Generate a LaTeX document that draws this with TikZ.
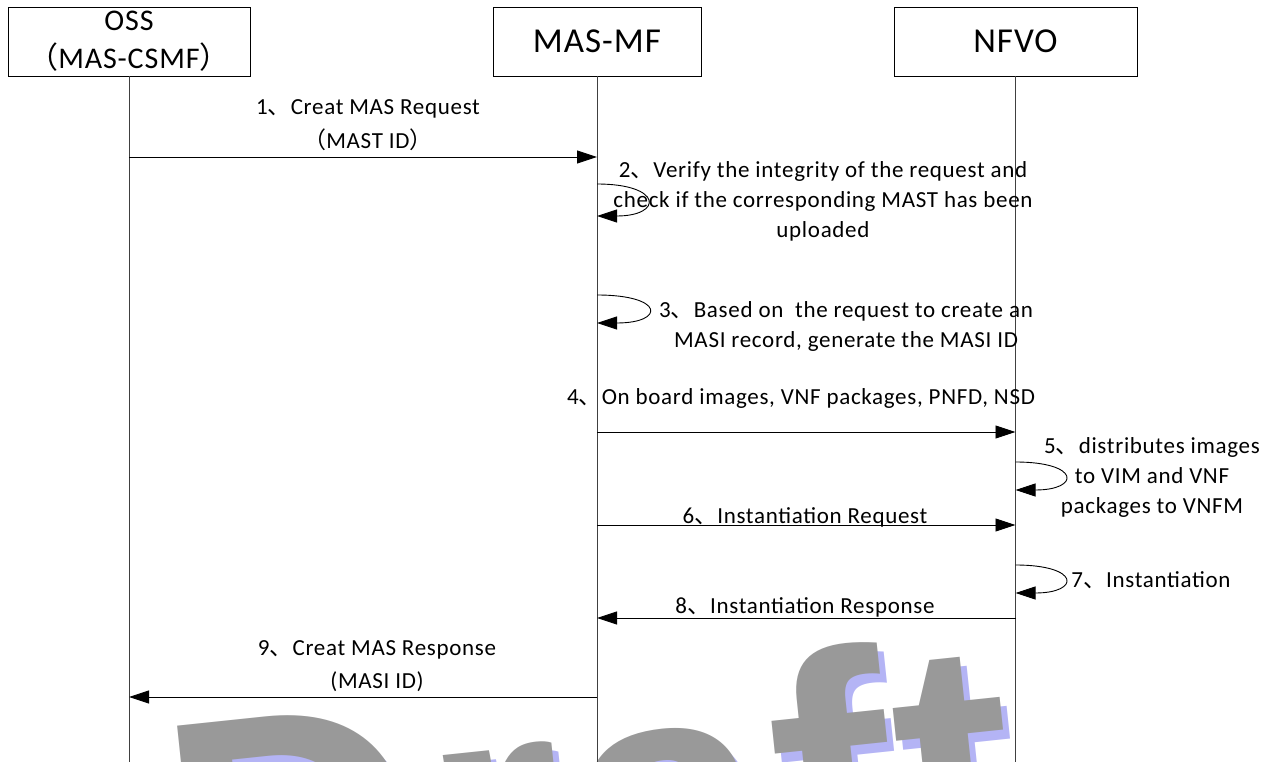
\documentclass[tikz,border=0pt]{standalone}
\usepackage{fontspec}
\setmainfont{Carlito}[LetterSpace=3]
\newfontfamily\cjk{Noto Sans CJK SC}
\newfontfamily\wmfont{Liberation Sans}[LetterSpace=1.7]
\usetikzlibrary{arrows.meta, positioning}

\newcommand{\dun}{{\cjk 、}}
\newcommand{\lpar}{{\cjk （}}
\newcommand{\rpar}{{\cjk ）}}

\definecolor{wmgrey}{RGB}{153,153,153}
\definecolor{wmblue}{RGB}{180,180,245}

\tikzset{
    actor/.style={draw, line width=0.9pt, minimum height=69pt, inner sep=0pt,
                  outer sep=0pt, align=center, font=\fontsize{35}{38}\selectfont},
    lifeline/.style={line width=0.9pt, black!75},
    msg/.style={line width=0.9pt, -{Triangle[length=20pt, width=13pt]}},
    lbl/.style={align=center, inner sep=0pt, font=\fontsize{23}{30}\selectfont},
    watermark/.style={font=\wmfont\bfseries\fontsize{355}{355}\selectfont,
                      rotate=6, anchor=base west, inner sep=0pt},
}

\begin{document}
\begin{tikzpicture}[x=1pt, y=-1pt, node distance=10pt]
    \useasboundingbox (0,0) rectangle (1272,762);

    % Draft watermark
    \begin{scope}
        \clip (0,0) rectangle (1272,762);
        \node[watermark, text=wmblue] (Draft shadow) at (186,981) {Draft};
        \node[watermark, text=wmgrey] (Draft)        at (179,972) {Draft};
    \end{scope}

    \node[actor, minimum width=242pt, anchor=north west, font=\fontsize{30}{38}\selectfont]
                                         (OSS) at (8,7) {OSS\\\lpar MAS-CSMF\rpar};
    \node[actor, minimum width=208pt, right=243pt of OSS] (MF)   {MAS-MF};
    \node[actor, minimum width=243pt, right=193pt of MF]  (NFVO) {NFVO};

    \coordinate (OSS end)  at (OSS  |- 0,762);
    \coordinate (MF end)   at (MF   |- 0,762);
    \coordinate (NFVO end) at (NFVO |- 0,762);
    \draw[lifeline] (OSS)  -- (OSS end);
    \draw[lifeline] (MF)   -- (MF end);
    \draw[lifeline] (NFVO) -- (NFVO end);

    % 1
    \coordinate (m1 from) at (OSS |- 0,157);
    \coordinate (m1 to)   at (MF  |- 0,157);
    \draw[msg] (m1 from) -- (m1 to);
    \node[lbl, font=\fontsize{23}{34}\selectfont] (l1) at (368,125)
        {1\dun Creat MAS Request\\\lpar MAST ID\rpar};

    % 2
    \coordinate (m2 from) at (MF |- 0,184);
    \coordinate (m2 to)   at (MF |- 0,216);
    \draw[msg] (m2 from) .. controls +(66,0) and +(66,0) .. (m2 to);
    \node[lbl] (l2) at (823,201)
        {2\dun Verify the integrity of the request and\\check if the corresponding MAST has been\\uploaded};

    % 3
    \coordinate (m3 from) at (MF |- 0,295);
    \coordinate (m3 to)   at (MF |- 0,323);
    \draw[msg] (m3 from) .. controls +(68,0) and +(68,0) .. (m3 to);
    \node[lbl] (l3) at (846,326)
        {3\dun Based on\ \ the request to create an\\MASI record, generate the MASI ID};

    % 4
    \coordinate (m4 from) at (MF   |- 0,432);
    \coordinate (m4 to)   at (NFVO |- 0,432);
    \draw[msg] (m4 from) -- (m4 to);
    \node[lbl] (l4) at (801,398) {4\dun On board images, VNF packages, PNFD, NSD};

    % 5
    \coordinate (m5 from) at (NFVO |- 0,462);
    \coordinate (m5 to)   at (NFVO |- 0,490);
    \draw[msg] (m5 from) .. controls +(65,0) and +(65,0) .. (m5 to);
    \node[lbl] (l5) at (1152,477)
        {5\dun distributes images\\to VIM and VNF\\packages to VNFM};

    % 6
    \coordinate (m6 from) at (MF   |- 0,525);
    \coordinate (m6 to)   at (NFVO |- 0,525);
    \draw[msg] (m6 from) -- (m6 to);
    \node[lbl] (l6) at (805,517) {6\dun Instantiation Request};

    % 7
    \coordinate (m7 from) at (NFVO |- 0,565);
    \coordinate (m7 to)   at (NFVO |- 0,593);
    \draw[msg] (m7 from) .. controls +(65,0) and +(65,0) .. (m7 to);
    \node[lbl] (l7) at (1151,580) {7\dun Instantiation};

    % 8
    \coordinate (m8 from) at (NFVO |- 0,618);
    \coordinate (m8 to)   at (MF   |- 0,618);
    \draw[msg] (m8 from) -- (m8 to);
    \node[lbl] (l8) at (805,607) {8\dun Instantiation Response};

    % 9
    \coordinate (m9 from) at (MF  |- 0,697);
    \coordinate (m9 to)   at (OSS |- 0,697);
    \draw[msg] (m9 from) -- (m9 to);
    \node[lbl, font=\fontsize{23}{33}\selectfont] (l9) at (377,666)
        {9\dun Creat MAS Response\\(MASI ID)};
\end{tikzpicture}
\end{document}
